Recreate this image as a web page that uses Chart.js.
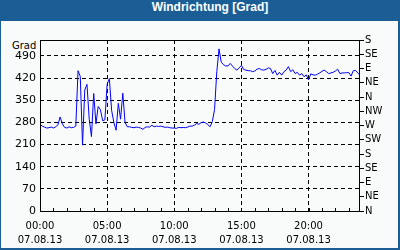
<!DOCTYPE html>
<html>
<head>
<meta charset="utf-8">
<script src="https://cdn.jsdelivr.net/npm/chart.js@4.4.1/dist/chart.umd.min.js"></script>
<style>
    body { margin: 0; }
    #frame { position: relative; width: 400px; height: 250px; background: #1b5e95; overflow: hidden; }
    #panel { position: absolute; left: 1px; top: 21px; width: 397px; height: 227px; background: #f9fbfa; }
    #title { position: absolute; left: 0; top: 0; width: 400px; height: 21px; line-height: 20px; padding-left: 20px; box-sizing: border-box; text-align: center; color: #fff; font: bold 12px "Liberation Sans", Arial, sans-serif; }
    #unit { position: absolute; left: 12px; top: 40px; font: 10px "DejaVu Sans", sans-serif; color: #000; }
    canvas { position: absolute; left: 0; top: 0; }
</style>
</head>
<body>
<div id="frame">
    <div id="panel"></div>
    <div id="title">Windrichtung [Grad]</div>
    <div id="unit">Grad</div>
    <canvas id="windChartElem" width="400" height="250"></canvas>
</div>
<script>
// Wind direction, one reading every 10 minutes, 07.08.13 00:00 - 23:50
const windValues = [
    274, 268, 265, 262, 263, 265, 262, 266, 272, 297, 275, 264, 262, 266, 263, 264, 268,
    443, 425, 208, 382, 400, 290, 235, 371, 275, 330, 320, 285, 288, 400, 418, 318, 280, 255, 340, 290, 372, 280, 266,
    266, 264, 263, 265, 264, 262, 258, 264, 266, 265, 271, 266, 268, 267, 268, 266, 264, 265, 263, 262,
    262, 261, 264, 263, 264, 263, 265, 268, 268, 271, 276, 274, 279, 281, 278, 273, 266, 282,
    320, 440, 512, 470, 462, 458, 458, 466, 458, 450, 445, 452, 460, 447, 445, 443, 443, 440, 442, 448,
    450, 446, 445, 447, 452, 450, 434, 444, 429, 438, 429, 440, 445, 456, 440, 446, 434, 438, 429, 434,
    424, 430, 414, 433, 430, 429, 432, 436, 441, 445, 440, 434, 436, 438, 442, 448, 434, 436, 436, 437,
    437, 426, 443, 444, 436, 429
];
const dateLabel = '07.08.13';
const majorHours = [0, 5, 10, 15, 20];
const degreeTicks = [0, 70, 140, 210, 280, 350, 420, 490];
const compassTicks = [0, 45, 90, 135, 180, 225, 270, 315, 360, 405, 450, 495, 540];
const compassLabels = ['N', 'NE', 'E', 'SE', 'S', 'SW', 'W', 'NW', 'N', 'NE', 'E', 'SE', 'S'];

// hours since midnight for each reading
const windHours = windValues.map((v, i) => i / 6);

const tickFont = { family: 'DejaVu Sans', size: 10 };
const dash = [4, 3];

// chart frame + hourly minor ticks on the time axis
const framePlugin = {
    id: 'frame',
    afterDraw(chart) {
        const { ctx, chartArea: a, scales } = chart;
        ctx.save();
        ctx.strokeStyle = '#000';
        ctx.lineWidth = 1;
        ctx.strokeRect(a.left + 0.5, a.top + 0.5, a.right - a.left - 1, a.bottom - a.top);
        ctx.beginPath();
        for (let h = 1; h <= Math.floor(scales.x.max); h++) {
            const px = Math.round(scales.x.getPixelForValue(h)) + 0.5;
            ctx.moveTo(px, a.bottom);
            ctx.lineTo(px, a.bottom - 3);
        }
        ctx.stroke();
        ctx.restore();
    }
};

const windChartElem = document.getElementById('windChartElem');
const windChart = new Chart(windChartElem, {
    type: 'line',
    data: {
        datasets: [{
            data: windHours.map((h, i) => ({ x: h, y: windValues[i] })),
            borderColor: '#0000ff',
            borderWidth: 1,
            pointRadius: 0,
            tension: 0,
            fill: false
        }]
    },
    options: {
        responsive: false,
        animation: false,
        layout: { padding: { top: 40, left: 0, right: 0, bottom: 0 } },
        plugins: { legend: { display: false }, tooltip: { enabled: false } },
        scales: {
            x: {
                type: 'linear',
                min: 0,
                max: windHours[windHours.length - 1],
                afterBuildTicks: (scale) => { scale.ticks = majorHours.map(v => ({ value: v })); },
                afterFit: (scale) => { scale.height = 39; },
                ticks: {
                    font: { ...tickFont, lineHeight: 1.4 },
                    color: '#000',
                    padding: 8,
                    maxRotation: 0,
                    autoSkip: false,
                    callback: (v) => [String(v).padStart(2, '0') + ':00', dateLabel]
                },
                grid: { color: '#000', drawTicks: false },
                border: { display: false, dash: dash }
            },
            y: {
                position: 'left',
                min: 0,
                max: 540,
                afterBuildTicks: (scale) => { scale.ticks = degreeTicks.map(v => ({ value: v })); },
                afterFit: (scale) => { scale.width = 40; },
                ticks: { font: { family: 'DejaVu Sans', size: 11 }, color: '#000', padding: 4, autoSkip: false },
                grid: { color: '#000', drawTicks: false },
                border: { display: false, dash: dash }
            },
            y2: {
                position: 'right',
                min: 0,
                max: 540,
                afterBuildTicks: (scale) => { scale.ticks = compassTicks.map(v => ({ value: v })); },
                afterFit: (scale) => { scale.width = 40; },
                ticks: {
                    font: tickFont,
                    color: '#000',
                    padding: 1,
                    autoSkip: false,
                    callback: (v, i) => compassLabels[i]
                },
                grid: { drawOnChartArea: false, color: '#000', tickLength: 4 },
                border: { display: false }
            }
        }
    },
    plugins: [framePlugin]
});
</script>
</body>
</html>
